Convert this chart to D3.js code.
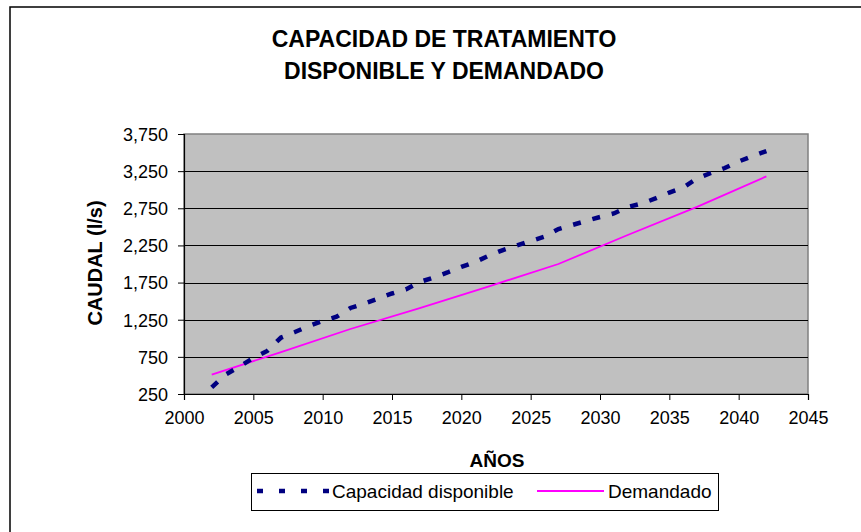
<!DOCTYPE html>
<html>
<head>
<meta charset="utf-8">
<script src="https://cdn.jsdelivr.net/npm/d3@7"></script>
<style>
  body { margin: 0; background: #fff; }
  text { font-family: "Liberation Sans", Arial, sans-serif; }
</style>
</head>
<body>
<div id="chart"></div>
<script>
const W = 861;
const H = 532;

// plot area in page pixels
const PLOT = { LEFT: 184, RIGHT: 808, TOP: 134, BOTTOM: 394 };

const titleLines = ["CAPACIDAD DE TRATAMIENTO", "DISPONIBLE Y DEMANDADO"];
const xTitle = "AÑOS";
const yTitle = "CAUDAL (l/s)";
const seriesNames = ["Capacidad disponible", "Demandado"];

const xTicks = [2000, 2005, 2010, 2015, 2020, 2025, 2030, 2035, 2040, 2045];
const yTicks = [250, 750, 1250, 1750, 2250, 2750, 3250, 3750];

const capYears = d3.range(2002, 2043);
const capValues = [
  340, 512, 619, 735, 829, 1010, 1085, 1165, 1233, 1290,
  1408, 1468, 1535, 1603, 1657, 1758, 1818, 1886, 1960, 2027,
  2114, 2188, 2249, 2309, 2370, 2471, 2525, 2579, 2633, 2680,
  2767, 2814, 2882, 2962, 3030, 3151, 3225, 3292, 3380, 3454, 3521,
];

const demYears = [2002, 2007, 2012, 2017, 2022, 2027, 2032, 2037, 2042];
const demValues = [510, 815, 1125, 1405, 1700, 2000, 2390, 2770, 3180];

const capColor = "#000080";
const demColor = "#FF00FF";

const svg = d3
  .select("#chart")
  .append("svg")
  .attr("width", W)
  .attr("height", H);

// outer chart frame (continues past the right / bottom edge)
svg
  .append("rect")
  .attr("x", 10)
  .attr("y", 7)
  .attr("width", W)
  .attr("height", H)
  .attr("fill", "#fff")
  .attr("stroke", "#000")
  .attr("stroke-width", 1.5);

// title
svg
  .append("g")
  .selectAll("text")
  .data(titleLines)
  .join("text")
  .attr("x", 444)
  .attr("y", (d, i) => 47 + i * 32)
  .attr("text-anchor", "middle")
  .style("font-size", "23px")
  .style("font-weight", "bold")
  .text((d) => d);

const xScale = d3.scaleLinear().domain([2000, 2045]).range([PLOT.LEFT, PLOT.RIGHT]);
const yScale = d3.scaleLinear().domain([250, 3750]).range([PLOT.BOTTOM, PLOT.TOP]);

// plot background
svg
  .append("rect")
  .attr("x", PLOT.LEFT)
  .attr("y", PLOT.TOP)
  .attr("width", PLOT.RIGHT - PLOT.LEFT)
  .attr("height", PLOT.BOTTOM - PLOT.TOP)
  .attr("fill", "#C0C0C0")
  .attr("stroke", "#808080")
  .attr("stroke-width", 1.5);

// gridlines
svg
  .append("g")
  .selectAll("line")
  .data(yTicks.slice(1, -1))
  .join("line")
  .attr("x1", PLOT.LEFT)
  .attr("x2", PLOT.RIGHT)
  .attr("y1", (d) => Math.round(yScale(d)) + 0.5)
  .attr("y2", (d) => Math.round(yScale(d)) + 0.5)
  .attr("stroke", "#000")
  .attr("stroke-width", 1.2);

// axes
const yAxis = d3
  .axisLeft(yScale)
  .tickValues(yTicks)
  .tickFormat(d3.format(","))
  .tickSize(6)
  .tickPadding(10);
const yAxisGroup = svg
  .append("g")
  .attr("transform", `translate(${PLOT.LEFT}, 0)`)
  .call(yAxis);

const xAxis = d3
  .axisBottom(xScale)
  .tickValues(xTicks)
  .tickFormat(d3.format("d"))
  .tickSize(6)
  .tickPadding(11);
const xAxisGroup = svg
  .append("g")
  .attr("transform", `translate(0, ${PLOT.BOTTOM})`)
  .call(xAxis);

[xAxisGroup, yAxisGroup].forEach((g) => {
  g.select(".domain").attr("stroke", "#000").attr("stroke-width", 1.2);
  g.selectAll(".tick line").attr("stroke", "#000");
  g.selectAll(".tick text")
    .attr("fill", "#000")
    .style("font-size", "18px")
    .style("font-family", '"Liberation Sans", Arial, sans-serif');
});
yAxisGroup.selectAll(".tick text").attr("dy", "0.35em");

// axis titles
svg
  .append("text")
  .attr("x", 497)
  .attr("y", 467)
  .attr("text-anchor", "middle")
  .style("font-size", "19px")
  .style("font-weight", "bold")
  .text(xTitle);

svg
  .append("text")
  .attr("transform", "translate(102, 263) rotate(-90)")
  .attr("text-anchor", "middle")
  .style("font-size", "20px")
  .style("font-weight", "bold")
  .text(yTitle);

// series
const line = d3
  .line()
  .x((d) => xScale(d[0]))
  .y((d) => yScale(d[1]));

const demData = demYears.map((y, i) => [y, demValues[i]]);
const capData = capYears.map((y, i) => [y, capValues[i]]);

svg
  .append("path")
  .datum(demData)
  .attr("d", line)
  .attr("fill", "none")
  .attr("stroke", demColor)
  .attr("stroke-width", 1.8);

svg
  .append("path")
  .datum(capData)
  .attr("d", line)
  .attr("fill", "none")
  .attr("stroke", capColor)
  .attr("stroke-width", 4.5)
  .attr("stroke-dasharray", "8,12");

// legend
const legend = svg.append("g");
legend
  .append("rect")
  .attr("x", 251.5)
  .attr("y", 473.5)
  .attr("width", 467)
  .attr("height", 37)
  .attr("fill", "#fff")
  .attr("stroke", "#000")
  .attr("stroke-width", 1);

const legendItems = [
  { name: seriesNames[0], color: capColor, width: 4.5, dash: "6,16", x1: 257, x2: 331, tx: 332 },
  { name: seriesNames[1], color: demColor, width: 1.8, dash: null, x1: 537, x2: 604, tx: 608 },
];

legendItems.forEach((d) => {
  legend
    .append("line")
    .attr("x1", d.x1)
    .attr("x2", d.x2)
    .attr("y1", 491)
    .attr("y2", 491)
    .attr("stroke", d.color)
    .attr("stroke-width", d.width)
    .attr("stroke-dasharray", d.dash);
  legend
    .append("text")
    .attr("x", d.tx)
    .attr("y", 498)
    .style("font-size", "19px")
    .text(d.name);
});
</script>
</body>
</html>
